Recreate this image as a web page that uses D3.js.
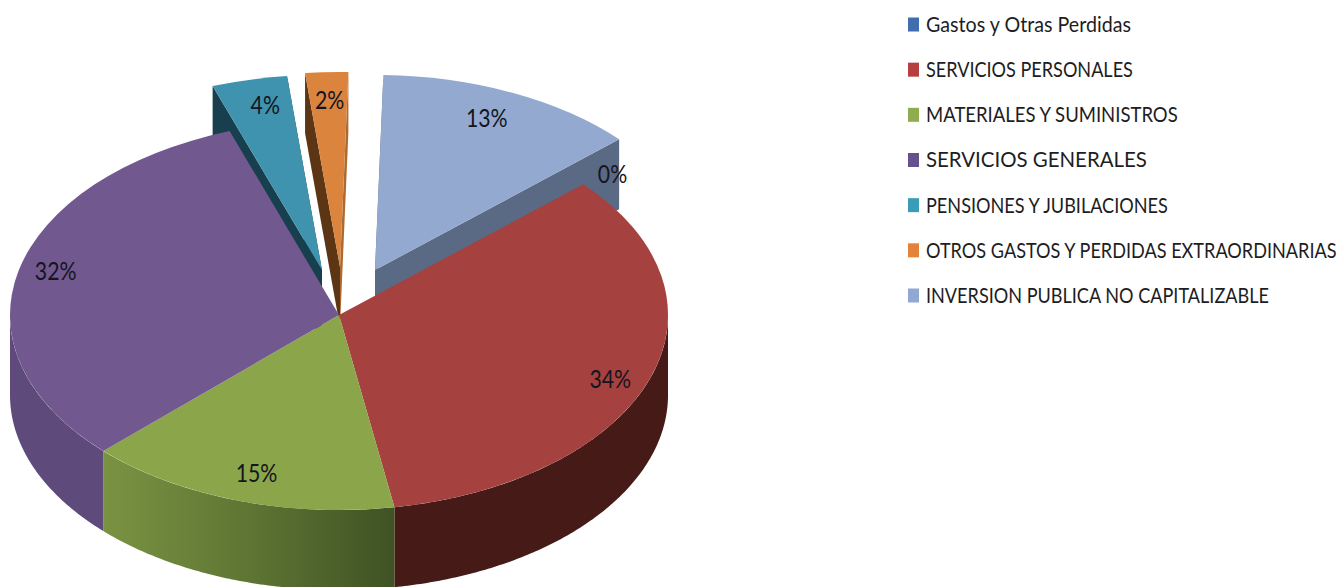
<!DOCTYPE html>
<html>
<head>
<meta charset="utf-8">
<script src="https://cdn.jsdelivr.net/npm/d3@7"></script>
<style>
  html, body { margin: 0; padding: 0; background: #fff; overflow: hidden; }
  text { font-family: Lato, "Open Sans", sans-serif; }
</style>
</head>
<body>
<svg id="chart" width="1340" height="587"></svg>
<script>
// chart data
var categories = ["Gastos y Otras Perdidas", "SERVICIOS PERSONALES", "MATERIALES Y SUMINISTROS", "SERVICIOS GENERALES", "PENSIONES Y JUBILACIONES", "OTROS GASTOS Y PERDIDAS EXTRAORDINARIAS", "INVERSION PUBLICA NO CAPITALIZABLE"];
var shares = [0, 34, 15.4, 31.9, 3.7, 2.1, 12.9];

// colours, same order as categories
var faceColors = ["#4f81bd", "#a5413f", "#8aa54a", "#71588f", "#3f93ae", "#db843d", "#93a9cf"];
var wallColors = ["#2f4d71", "#451a17", "#5d7432", "#5f4a7c", "#173f4d", "#5c3514", "#5a6a84"];
var sideColors = ["#2f4d71", "#451a17", "#5d7432", "#5f4a7c", "#173f4d", "#ad6a30", "#5a6a84"];
var legendColors = ["#3f6fae", "#b5403f", "#8fad4f", "#66518f", "#3a9cb8", "#e4813a", "#8fa8d4"];

// how far each slice is pulled out, and its wall height
var explode = [[0, 0], [0, 0], [0, 0], [0, 0], [-17, -45], [1, -48], [36, -45]];
var depths = [80, 80, 80, 80, 70, 60, 70];
// label nudges from the default spot on the slice
var labelNudge = [[66, -30], [7, 10], [4, 0], [-11, -6], [5, -3], [1, -1], [-5, -1]];
// legend text widths as they came out in the original
var legendWidths = [205, 207, 252, 221, 242, 411, 343];

var cx = 339, cy = 315, rx = 329, ry = 195;
var startDeg = 47.9;

var svg = d3.select("#chart");

var xPos = d3.scaleLinear().domain([-1, 1]).range([cx - rx, cx + rx]);
var yPos = d3.scaleLinear().domain([-1, 1]).range([cy - ry, cy + ry]);

var pie = d3.pie().sort(null).value(function(d) { return d.share; })
  .startAngle(startDeg * Math.PI / 180)
  .endAngle((startDeg + 360) * Math.PI / 180);

var slices = pie(categories.map(function(c, i) { return {name: c, share: shares[i], i: i}; }));

var arc = d3.arc().innerRadius(0).outerRadius(rx);

function px(a) { return xPos(Math.sin(a)); }
function py(a) { return yPos(-Math.cos(a)); }

// green wall has the shading from the original, the rest are flat
var defs = svg.append("defs");
var greenGrad = defs.append("linearGradient").attr("id", "greenWall")
  .attr("gradientUnits", "userSpaceOnUse")
  .attr("x1", px(slices[2].endAngle)).attr("x2", px(slices[2].startAngle))
  .attr("y1", 0).attr("y2", 0);
greenGrad.append("stop").attr("offset", 0).attr("stop-color", "#7a9342");
greenGrad.append("stop").attr("offset", 0.5).attr("stop-color", "#5e7533");
greenGrad.append("stop").attr("offset", 1).attr("stop-color", "#3f5224");

function drawTop(s) {
  var off = explode[s.data.i];
  svg.append("path")
    .attr("transform", "translate(" + (cx + off[0]) + "," + (cy + off[1]) + ") scale(1," + (ry / rx) + ")")
    .attr("d", arc(s))
    .attr("fill", faceColors[s.data.i]);
}

// the two cut faces of a pulled out slice
function drawCuts(s) {
  var i = s.data.i, off = explode[i], d = depths[i];
  [[s.startAngle, wallColors[i]], [s.endAngle, sideColors[i]]].forEach(function(c) {
    var ox = px(c[0]) + off[0], oy = py(c[0]) + off[1];
    var ax = cx + off[0], ay = cy + off[1];
    svg.append("path")
      .attr("d", d3.line()([[ox, oy], [ax, ay], [ax, ay + d], [ox, oy + d]]) + "Z")
      .attr("fill", c[1]);
  });
}

// rim of the pie, only the part that faces us
function drawRim(s) {
  var i = s.data.i;
  var a0 = Math.max(s.startAngle, Math.PI / 2), a1 = Math.min(s.endAngle, 3 * Math.PI / 2);
  if (a1 <= a0) return;
  var steps = d3.range(a0, a1, 0.01).concat([a1]);
  var rim = d3.area()
    .x(function(a) { return px(a); })
    .y1(function(a) { return py(a); })
    .y0(function(a) { return py(a) + depths[i]; });
  svg.append("path")
    .attr("d", rim(steps))
    .attr("fill", i == 2 ? "url(#greenWall)" : wallColors[i]);
}

var pulled = slices.filter(function(s) { return explode[s.data.i][1] != 0; });
var fixed = slices.filter(function(s) { return explode[s.data.i][1] == 0 && s.data.share > 0; });

pulled.forEach(function(s) { drawCuts(s); drawTop(s); });
fixed.forEach(drawRim);
fixed.forEach(drawTop);

// percent labels
slices.forEach(function(s) {
  var i = s.data.i, off = explode[i], n = labelNudge[i];
  var mid = (s.startAngle + s.endAngle) / 2;
  var lx = xPos(0.85 * Math.sin(mid)) + off[0] + n[0];
  var ly = yPos(-0.85 * Math.cos(mid)) + off[1] + n[1];
  svg.append("text")
    .attr("transform", "translate(" + lx + "," + ly + ") scale(0.85,1)")
    .attr("text-anchor", "middle")
    .attr("dy", "0.36em")
    .attr("font-size", 25)
    .attr("fill", "#151520")
    .text(Math.round(s.data.share) + "%");
});

// legend
var legendY = d3.scalePoint().domain(categories).range([24.5, 295.5]);
var legend = svg.append("g").selectAll("g").data(categories).enter().append("g")
  .attr("transform", function(d) { return "translate(908," + legendY(d) + ")"; });

legend.append("rect")
  .attr("x", 0).attr("y", -7).attr("width", 11).attr("height", 14)
  .attr("fill", function(d, i) { return legendColors[i]; });

// squeeze each text to the width it has in the original
legend.append("text")
  .attr("dy", "0.36em")
  .attr("font-size", 20.5)
  .attr("fill", "#1d1d22")
  .text(function(d) { return d; })
  .attr("transform", function(d, i) {
    return "translate(18,0) scale(" + (legendWidths[i] / this.getComputedTextLength()) + ",1)";
  });
</script>
</body>
</html>
